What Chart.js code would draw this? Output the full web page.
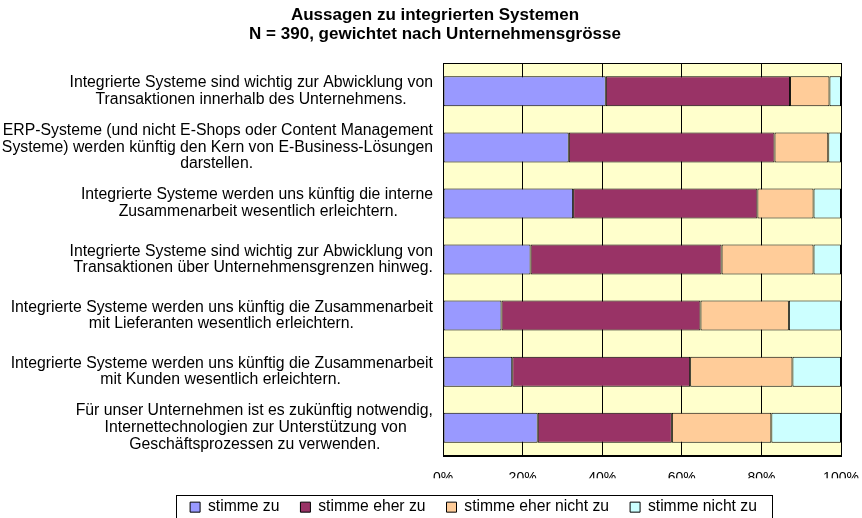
<!DOCTYPE html>
<html>
<head>
<meta charset="utf-8">
<script src="https://cdn.jsdelivr.net/npm/chart.js@4"></script>
<style>
  body { margin: 0; background: #fff; }
</style>
</head>
<body>
<canvas id="systeme_chart" width="862" height="518"></canvas>
<script>
const aussagen = [
    ['Integrierte Systeme sind wichtig zur Abwicklung von', 'Transaktionen innerhalb des Unternehmens.'],
    ['ERP-Systeme (und nicht E-Shops oder Content Management', 'Systeme) werden künftig den Kern von E-Business-Lösungen', 'darstellen.'],
    ['Integrierte Systeme werden uns künftig die interne', 'Zusammenarbeit wesentlich erleichtern.'],
    ['Integrierte Systeme sind wichtig zur Abwicklung von', 'Transaktionen über Unternehmensgrenzen hinweg.'],
    ['Integrierte Systeme werden uns künftig die Zusammenarbeit', 'mit Lieferanten wesentlich erleichtern.'],
    ['Integrierte Systeme werden uns künftig die Zusammenarbeit', 'mit Kunden wesentlich erleichtern.'],
    ['Für unser Unternehmen ist es zukünftig notwendig,', 'Internettechnologien zur Unterstützung von', 'Geschäftsprozessen zu verwenden.']
];
const stimmeZu = [40.9, 31.6, 32.7, 22.0, 14.7, 17.4, 23.8];
const stimmeEherZu = [46.3, 51.7, 46.3, 48.0, 50.0, 44.7, 33.7];
const stimmeEherNichtZu = [9.9, 13.5, 14.1, 23.1, 22.2, 25.7, 25.0];
const stimmeNichtZu = [2.9, 3.2, 6.9, 6.9, 13.1, 12.2, 17.5];
const titel = ['Aussagen zu integrierten Systemen', 'N = 390, gewichtet nach Unternehmensgrösse'];

const schrift = "'Liberation Sans', Arial, sans-serif";
const labelGroesse = 15.8;
Chart.defaults.font.family = schrift;
Chart.defaults.color = '#000';

// Zeilen innerhalb eines Labels zentrieren (Excel-Stil), Block bleibt rechtsbündig
const mess = document.createElement('canvas').getContext('2d');
mess.font = labelGroesse + 'px ' + schrift;
const nbsp = '\u00A0';
const leer = mess.measureText(nbsp).width;
const zentrierteLabels = aussagen.map(zeilen => {
    const breiten = zeilen.map(z => mess.measureText(z).width);
    const max = Math.max(...breiten);
    return zeilen.map((z, i) => z + nbsp.repeat(Math.round((max - breiten[i]) / 2 / leer)));
});

// gelber Hintergrund, Rahmen, Legendenrahmen und Verschiebung von Titel/Legende
const excelLook = {
    id: 'excelLook',
    afterLayout(chart) {
        chart.titleBlock.left += 14.5;
        chart.titleBlock.right += 14.5;
        chart.legend.left += 53;
        chart.legend.right += 53;
    },
    beforeDraw(chart) {
        const {ctx, chartArea: a} = chart;
        ctx.save();
        ctx.fillStyle = '#FFFFCC';
        ctx.fillRect(a.left, a.top, a.right - a.left, a.bottom - a.top);
        ctx.restore();
    },
    beforeDatasetsDraw(chart) {
        const {ctx, chartArea: a} = chart;
        ctx.save();
        ctx.strokeStyle = '#000';
        ctx.lineWidth = 1;
        ctx.strokeRect(Math.round(a.left) + 0.5, Math.round(a.top) + 0.5,
            Math.round(a.right - a.left), Math.round(a.bottom - a.top));
        ctx.restore();
    },
    afterDraw(chart) {
        const boxes = chart.legend.legendHitBoxes;
        if (!boxes || !boxes.length) return;
        const first = boxes[0], last = boxes[boxes.length - 1];
        const ctx = chart.ctx;
        const l = Math.round(first.left - 14.5) + 0.5;
        const r = Math.round(last.left + last.width + 15) + 0.5;
        const t = Math.round(first.top - 4.5) + 0.5;
        ctx.save();
        ctx.strokeStyle = '#000';
        ctx.lineWidth = 1;
        ctx.strokeRect(l, t, r - l, 30);
        ctx.restore();
    }
};

const ctx = document.getElementById('systeme_chart').getContext('2d');
const systemeChart = new Chart(ctx, {
    type: 'bar',
    data: {
        labels: aussagen,
        datasets: [
            { label: 'stimme zu', data: stimmeZu, backgroundColor: '#9999FF' },
            { label: 'stimme eher zu', data: stimmeEherZu, backgroundColor: '#993366' },
            { label: 'stimme eher nicht zu', data: stimmeEherNichtZu, backgroundColor: '#FFCC99' },
            { label: 'stimme nicht zu', data: stimmeNichtZu, backgroundColor: '#CCFFFF' }
        ]
    },
    options: {
        indexAxis: 'y',
        responsive: false,
        animation: false,
        devicePixelRatio: 1,
        layout: { padding: { left: 0, right: 21, top: 0, bottom: -7 } },
        datasets: {
            bar: {
                borderColor: '#000',
                borderWidth: 1,
                borderSkipped: false,
                categoryPercentage: 1,
                barPercentage: 0.535
            }
        },
        scales: {
            x: {
                stacked: true,
                min: 0,
                max: 100,
                ticks: {
                    stepSize: 20,
                    padding: 14,
                    font: { size: 14 },
                    callback: v => v + '%'
                },
                grid: { color: '#000', lineWidth: 1, drawTicks: false },
                border: { display: true, color: '#000' },
                afterFit: s => {
                    s.height = 22.5;
                    s.paddingLeft = 0;
                    s.paddingRight = 0;
                }
            },
            y: {
                stacked: true,
                ticks: {
                    padding: 10,
                    font: { size: labelGroesse, lineHeight: 1.057 },
                    callback: (v, i) => zentrierteLabels[i]
                },
                grid: { display: false, drawTicks: false },
                border: { display: false },
                afterFit: s => { s.width = 443; }
            }
        },
        plugins: {
            title: {
                display: true,
                text: titel,
                font: { size: 17, weight: 'bold', lineHeight: 1.088 },
                color: '#000',
                padding: { top: 6.5, bottom: 19.8 }
            },
            legend: {
                display: true,
                position: 'bottom',
                labels: {
                    boxWidth: 10,
                    boxHeight: 10,
                    padding: 21,
                    font: { size: 15.7 }
                }
            },
            tooltip: { enabled: false }
        }
    },
    plugins: [excelLook]
});
</script>
</body>
</html>
